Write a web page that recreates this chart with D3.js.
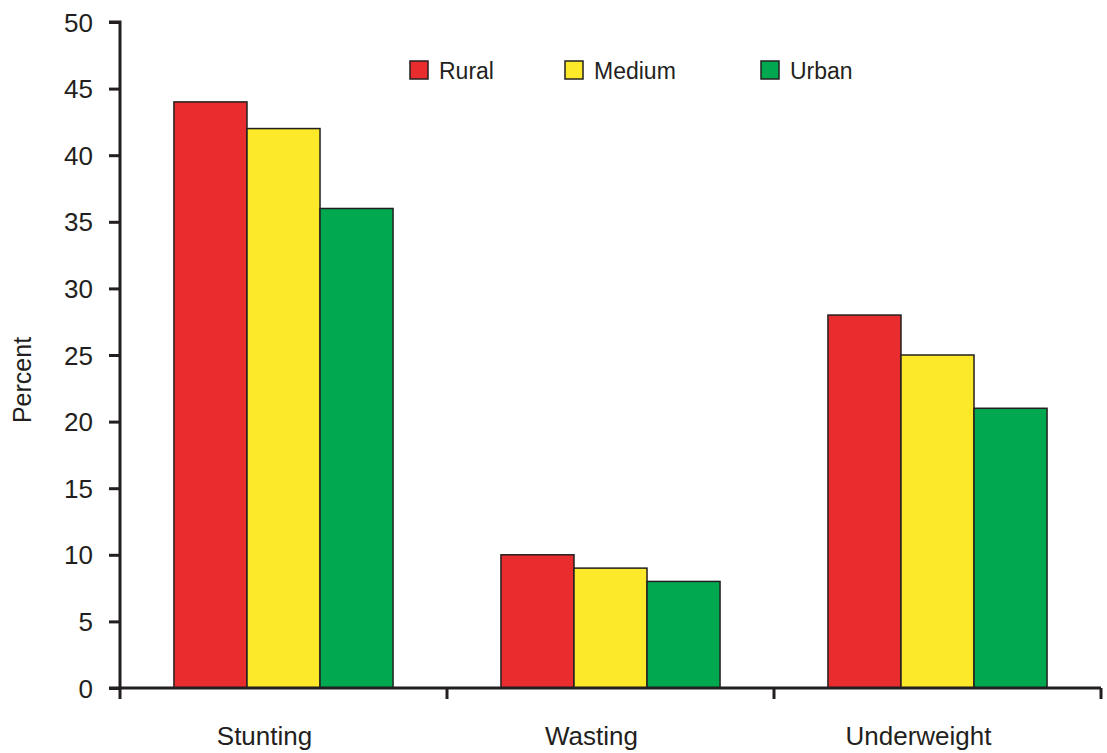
<!DOCTYPE html>
<html><head><meta charset="utf-8">
<script src="https://cdn.jsdelivr.net/npm/d3@7"></script>
<style>body{margin:0;background:#fff}svg{display:block}text{font-family:"Liberation Sans",Arial,sans-serif;fill:#231F20}</style>
</head><body>
<script>
const categories = ["Stunting","Wasting","Underweight"];
const seriesNames = ["Rural","Medium","Urban"];
const rural = [44,10,28];
const medium = [42,9,25];
const urban = [36,8,21];
const yTicks = [0,5,10,15,20,25,30,35,40,45,50];
const colors = ["#E92D2F","#FBE92A","#00A94F"];
const series = [rural, medium, urban];

const W=1107,H=753;
const svg=d3.select("body").append("svg").attr("width",W).attr("height",H);
const x0=120,x1=1101,yTop=22,yBot=688;
const x=d3.scaleBand().domain(categories).range([x0,x1]).paddingInner(0).paddingOuter(0);
const bw=x.bandwidth();
const xs=d3.scaleBand().domain(seriesNames).range([bw*0.165,bw*0.835]).paddingInner(0).paddingOuter(0);
const y=d3.scaleLinear().domain([0,50]).range([yBot,yTop]);

// bars
categories.forEach((c,i)=>{
  seriesNames.forEach((s,j)=>{
    svg.append("rect")
      .attr("x",x(c)+xs(s)).attr("y",y(series[j][i]))
      .attr("width",xs.bandwidth()).attr("height",yBot-y(series[j][i]))
      .attr("fill",colors[j]).attr("stroke","#231F20").attr("stroke-width",1.5);
  });
});

// y axis
const ya=svg.append("g").attr("transform",`translate(${x0},0)`)
  .call(d3.axisLeft(y).tickValues(yTicks).tickSize(11).tickPadding(16));
ya.select(".domain").attr("stroke","#231F20").attr("stroke-width",3).attr("d",`M-11,${yTop}H0V${yBot}H-11`);
ya.selectAll(".tick line").attr("stroke","#231F20").attr("stroke-width",3);
ya.selectAll("text").style("font-size","26px").attr("fill","#231F20").attr("dy","0.35em");

// x axis
const xa=svg.append("g").attr("transform",`translate(0,${yBot})`);
xa.append("line").attr("x1",x0).attr("x2",x1).attr("y1",0).attr("y2",0).attr("stroke","#231F20").attr("stroke-width",3);
const bounds=categories.map(c=>x(c)).concat([x1]);
bounds.forEach(b=>{
  xa.append("line").attr("x1",b).attr("x2",b).attr("y1",0).attr("y2",11).attr("stroke","#231F20").attr("stroke-width",3);
});
categories.forEach(c=>{
  xa.append("text").attr("x",x(c)+bw/2-19).attr("y",57).attr("text-anchor","middle")
    .style("font-size","26px").text(c);
});

// y label
svg.append("text").attr("transform","translate(31,380) rotate(-90)").attr("text-anchor","middle")
  .style("font-size","25px").text("Percent");

// legend
const legX=[410,565,761];
seriesNames.forEach((s,j)=>{
  svg.append("rect").attr("x",legX[j]).attr("y",61).attr("width",18).attr("height",18)
    .attr("fill",colors[j]).attr("stroke","#231F20").attr("stroke-width",1.5);
  svg.append("text").attr("x",legX[j]+29).attr("y",79).style("font-size","23px").text(s);
});
</script>
</body></html>
